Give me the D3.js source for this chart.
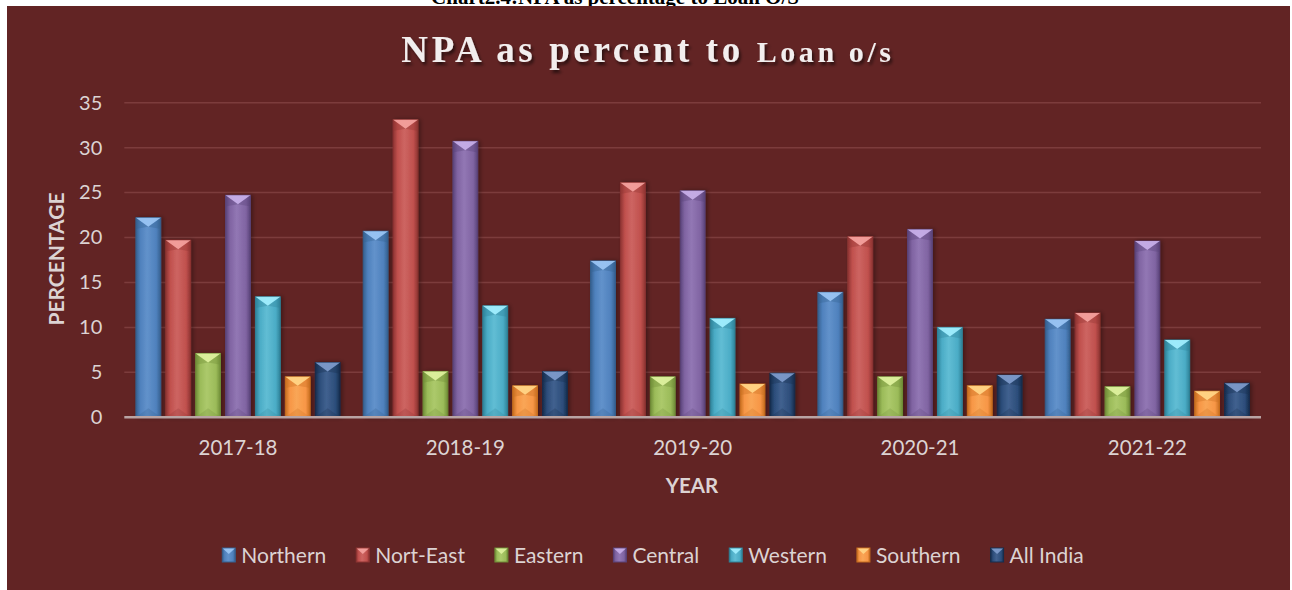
<!DOCTYPE html>
<html>
<head>
<meta charset="utf-8">
<script src="https://cdn.jsdelivr.net/npm/d3@7/dist/d3.min.js"></script>
<style>
	body { margin:0; background:#fff; }
	svg { display:block; }
</style>
</head>
<body>
<svg id="chart" width="1292" height="590"></svg>
<script>
// data
var years = ["2017-18","2018-19","2019-20","2020-21","2021-22"];
var regions = ["Northern","Nort-East","Eastern","Central","Western","Southern","All India"];
var northern = [22.2, 20.7, 17.4, 13.9, 10.9];
var northEast = [19.7, 33.1, 26.1, 20.1, 11.6];
var eastern = [7.1, 5.1, 4.5, 4.5, 3.4];
var central = [24.7, 30.7, 25.2, 20.9, 19.6];
var western = [13.4, 12.4, 11.0, 10.0, 8.6];
var southern = [4.5, 3.5, 3.7, 3.5, 2.9];
var allIndia = [6.1, 5.1, 4.9, 4.7, 3.8];
var yTicks = [0,5,10,15,20,25,30,35];

var seriesValues = [northern, northEast, eastern, central, western, southern, allIndia];

// base / light / dark per series
var palette = [
	["#4f81bd","#9cc6f5","#35608f"],
	["#c0504d","#f5a3a0","#8e3432"],
	["#9bbb59","#e0f2a0","#6f8c37"],
	["#8064a2","#c9b0ea","#5a4379"],
	["#4bacc6","#a3efff","#2e8298"],
	["#f79646","#ffd687","#c66d1f"],
	["#2c4d7a","#7f9ccc","#162d4d"]
];

var bg = "#622424";
var txt = "#dcd3d3";
var font = "Lato, 'Open Sans', sans-serif";
var svg = d3.select("#chart");

// page strip with caption peeking out above the chart
svg.append("text")
	.attr("x", 615).attr("y", 4)
	.attr("text-anchor","middle")
	.attr("font-family","'Liberation Serif', serif")
	.attr("font-weight","bold")
	.attr("font-size", 21)
	.attr("fill","#000")
	.text("Chart2.4:NPA as percentage to Loan O/S");

svg.append("rect")
	.attr("x",7).attr("y",6)
	.attr("width",1283).attr("height",584)
	.attr("fill",bg);

var defs = svg.append("defs");

var shadow = defs.append("filter").attr("id","tshadow")
	.attr("x","-10%").attr("y","-20%").attr("width","120%").attr("height","150%");
shadow.append("feDropShadow")
	.attr("dx",2).attr("dy",3).attr("stdDeviation",1.5)
	.attr("flood-color","#000").attr("flood-opacity",0.55);

var barshadow = defs.append("filter").attr("id","bshadow")
	.attr("x","-30%").attr("y","-10%").attr("width","160%").attr("height","120%");
barshadow.append("feDropShadow")
	.attr("dx",2).attr("dy",0).attr("stdDeviation",2)
	.attr("flood-color","#000").attr("flood-opacity",0.35);

palette.forEach(function(c,i){
	var g = defs.append("linearGradient")
		.attr("id","grad"+i)
		.attr("x1","0").attr("x2","1").attr("y1","0").attr("y2","0");
	g.append("stop").attr("offset","0%").attr("stop-color",c[2]);
	g.append("stop").attr("offset","18%").attr("stop-color",c[0]);
	g.append("stop").attr("offset","45%").attr("stop-color",d3.interpolateRgb(c[0],c[1])(0.25));
	g.append("stop").attr("offset","82%").attr("stop-color",c[0]);
	g.append("stop").attr("offset","100%").attr("stop-color",c[2]);
});

// title
var title = svg.append("text")
	.attr("x", 648).attr("y", 62)
	.attr("text-anchor","middle")
	.attr("font-family","'Liberation Serif', 'Times New Roman', serif")
	.attr("font-weight","bold")
	.attr("fill","#f2eeee")
	.attr("letter-spacing", 3.6)
	.attr("filter","url(#tshadow)");
title.append("tspan").attr("font-size",37).text("NPA as percent to ");
title.append("tspan").attr("font-size",30).text("Loan o/s");

// scales
var x0 = d3.scaleBand()
	.domain(years)
	.range([124.3, 1261]);

var x1 = d3.scaleBand()
	.domain(regions)
	.range([11.6, x0.bandwidth()-11.6])
	.paddingInner(0.17);

var y = d3.scaleLinear()
	.domain([0,35])
	.range([417.3, 102.7]);

// gridlines
svg.append("g").attr("class","grid")
	.selectAll("line")
	.data(yTicks.filter(function(d){ return d>0; })).enter()
	.append("line")
	.attr("x1",124.3).attr("x2",1261)
	.attr("y1",function(d){ return y(d); })
	.attr("y2",function(d){ return y(d); })
	.attr("stroke","#7c3c3c")
	.attr("stroke-width",1.5);

// y tick labels
var yAxis = d3.axisLeft(y).tickValues(yTicks).tickSize(0).tickPadding(22);
var yg = svg.append("g")
	.attr("transform","translate(124.3,0)")
	.call(yAxis);
yg.select(".domain").remove();
yg.selectAll("text")
	.attr("fill",txt)
	.attr("font-family",font)
	.attr("font-size",20);

// bars
var rows = years.map(function(yr,j){
	return { year: yr, vals: regions.map(function(r,i){
		return { region: r, idx: i, value: seriesValues[i][j] };
	})};
});

var groups = svg.append("g").attr("class","bars")
	.selectAll(".grp")
	.data(rows).enter()
	.append("g")
	.attr("class","grp")
	.attr("transform",function(d){ return "translate("+x0(d.year)+",0)"; });

var bar = groups.selectAll(".bar")
	.data(function(d){ return d.vals; }).enter()
	.append("g")
	.attr("class","bar");

bar.append("rect")
	.attr("x",function(d){ return x1(d.region); })
	.attr("y",function(d){ return y(d.value); })
	.attr("width",x1.bandwidth())
	.attr("height",function(d){ return y(0)-y(d.value); })
	.attr("fill",function(d){ return "url(#grad"+d.idx+")"; })
	.attr("stroke",function(d){ return palette[d.idx][2]; })
	.attr("stroke-width",1)
	.attr("filter","url(#bshadow)");

// bevel on top of the bar
bar.append("path")
	.attr("d",function(d){
		var bx = x1(d.region), bw = x1.bandwidth(), by = y(d.value), h = 9;
		return "M"+bx+","+by+" L"+(bx+bw)+","+by+" L"+(bx+bw/2)+","+(by+h)+" Z";
	})
	.attr("fill",function(d){ return palette[d.idx][1]; })
	.attr("opacity",0.9);

bar.append("path")
	.attr("d",function(d){
		var bx = x1(d.region), bw = x1.bandwidth(), by = y(d.value), h = 9;
		return "M"+(bx+1)+","+(by+1)+" L"+(bx+bw/2)+","+(by+h)+" L"+(bx+1)+","+(by+h+2)+" Z"
			+ " M"+(bx+bw-1)+","+(by+1)+" L"+(bx+bw/2)+","+(by+h)+" L"+(bx+bw-1)+","+(by+h+2)+" Z";
	})
	.attr("fill",function(d){ return palette[d.idx][2]; })
	.attr("opacity",0.35);

// faint bottom bevel
bar.append("path")
	.attr("d",function(d){
		var bx = x1(d.region), bw = x1.bandwidth(), by = y(0), h = Math.min(9, (y(0)-y(d.value))/2);
		return "M"+bx+","+by+" L"+(bx+bw)+","+by+" L"+(bx+bw/2)+","+(by-h)+" Z";
	})
	.attr("fill",function(d){ return palette[d.idx][2]; })
	.attr("opacity",0.25);

// zero axis line
svg.append("line")
	.attr("x1",124.3).attr("x2",1261)
	.attr("y1",y(0)).attr("y2",y(0))
	.attr("stroke","#b9a4a4")
	.attr("stroke-width",2.5);

// x labels
var xAxis = d3.axisBottom(x0).tickSize(0).tickPadding(23);
var xg = svg.append("g")
	.attr("transform","translate(0,"+y(0)+")")
	.call(xAxis);
xg.select(".domain").remove();
xg.selectAll("text")
	.attr("fill",txt)
	.attr("font-family",font)
	.attr("font-size",20.5);

// axis titles
svg.append("text")
	.attr("x",692).attr("y",493)
	.attr("text-anchor","middle")
	.attr("font-family",font)
	.attr("font-weight","bold")
	.attr("font-size",20.5)
	.attr("fill",txt)
	.text("YEAR");

svg.append("text")
	.attr("transform","translate(64,259) rotate(-90)")
	.attr("text-anchor","middle")
	.attr("font-family",font)
	.attr("font-weight","bold")
	.attr("font-size",21)
	.attr("fill",txt)
	.text("PERCENTAGE");

// legend
var legend = svg.append("g").attr("class","legend");
var item = legend.selectAll(".item")
	.data(regions).enter()
	.append("g").attr("class","item");

item.append("rect")
	.attr("width",13).attr("height",14)
	.attr("y",-7)
	.attr("fill",function(d,i){ return "url(#grad"+i+")"; })
	.attr("stroke",function(d,i){ return palette[i][2]; });

item.append("path")
	.attr("d","M0.5,-6.5 L12.5,-6.5 L6.5,-1 Z")
	.attr("fill",function(d,i){ return palette[i][1]; })
	.attr("opacity",0.9);

item.append("text")
	.attr("x",19).attr("y",7.5)
	.attr("font-family",font)
	.attr("font-size",21)
	.attr("fill",txt)
	.text(function(d){ return d; });

var gap = 30;
var pos = 0;
var offsets = [];
item.each(function(){
	offsets.push(pos);
	pos += 19 + d3.select(this).select("text").node().getComputedTextLength() + gap;
});
var total = pos - gap;
var startx = 653 - total/2;
item.attr("transform",function(d,i){ return "translate("+(startx+offsets[i])+",555)"; });
</script>
</body>
</html>
